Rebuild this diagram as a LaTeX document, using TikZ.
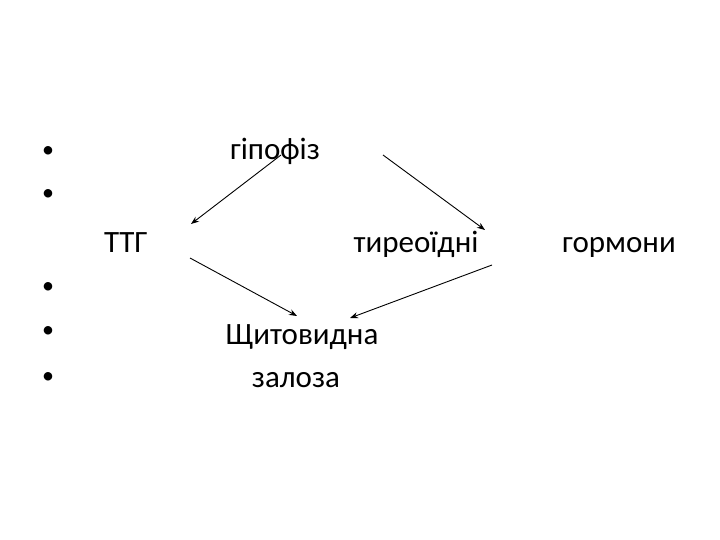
\documentclass[tikz,border=0pt]{standalone}
\usepackage{fontspec}
\setmainfont{Carlito}
\usetikzlibrary{arrows.meta}
\begin{document}
\begin{tikzpicture}[x=1pt,y=-1pt,
  lbl/.style={inner sep=0pt,font=\fontsize{31}{36}\selectfont,anchor=base},
  bul/.style={inner sep=0pt,font=\fontsize{24}{28}\selectfont},
  arr/.style={-{Stealth[length=8pt,width=6pt]},line width=0.9pt}]
\useasboundingbox[fill=white] (0,0) rectangle (720,540);
\node[bul] (b1) at (48,152) {•};
\node[bul] (b2) at (48,195) {•};
\node[bul] (b3) at (48,288) {•};
\node[bul] (b4) at (48,332) {•};
\node[bul] (b5) at (48,378) {•};
\node[lbl] (hyp) at (275,160) {гіпофіз};
\node[lbl] (ttg) at (126,252) {ТТГ};
\node[lbl] (thy) at (416,252) {тиреоїдні};
\node[lbl] (horm) at (619,252) {гормони};
\node[lbl] (shch) at (302,344) {Щитовидна};
\node[lbl] (zal) at (296,387) {залоза};
\coordinate (a1s) at (281,155);
\coordinate (a1e) at (191,224);
\coordinate (a2s) at (383,155);
\coordinate (a2e) at (485,230);
\coordinate (a3s) at (190,258);
\coordinate (a3e) at (297,316);
\coordinate (a4s) at (492,265);
\coordinate (a4e) at (350,318);
\draw[arr] (a1s) -- (a1e);
\draw[arr] (a2s) -- (a2e);
\draw[arr] (a3s) -- (a3e);
\draw[arr] (a4s) -- (a4e);
\end{tikzpicture}
\end{document}
